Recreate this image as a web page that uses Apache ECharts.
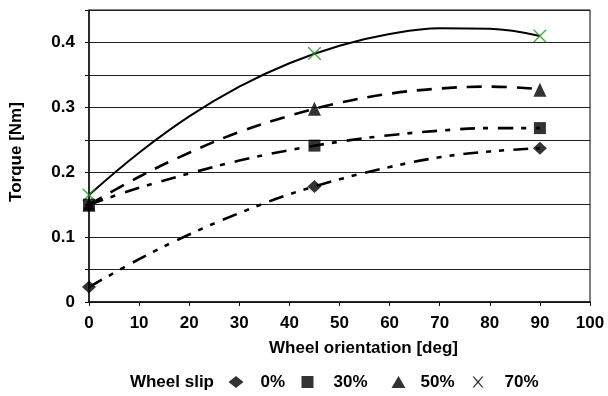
<!DOCTYPE html>
<html>
<head>
<meta charset="utf-8">
<script src="https://cdn.jsdelivr.net/npm/echarts@6/dist/echarts.min.js"></script>
<style>
html,body{margin:0;padding:0;background:#fff;}
#chart{width:608px;height:396px;}
</style>
</head>
<body>
<div id="chart"></div>
<script>
// ---- data ----
const seriesNames = ['0%', '30%', '50%', '70%'];
const measuredX = [0, 45, 90];
const measured0 = [0.023, 0.178, 0.237];
const measured30 = [0.150, 0.241, 0.268];
const measured50 = [0.150, 0.298, 0.327];
const measured70 = [0.165, 0.383, 0.410];
// trend-line values
const trendX = [0, 10, 20, 30, 40, 50, 60, 70, 80, 90];
const trend0 = [0.023, 0.066, 0.104, 0.137, 0.166, 0.189, 0.208, 0.223, 0.232, 0.237];
const trend30 = [0.150, 0.176, 0.198, 0.218, 0.234, 0.247, 0.257, 0.264, 0.268, 0.268];
const trend50 = [0.150, 0.193, 0.230, 0.262, 0.287, 0.307, 0.321, 0.329, 0.332, 0.328];
const trend70 = [0.165, 0.230, 0.286, 0.332, 0.368, 0.395, 0.413, 0.422, 0.421, 0.410];
const xTicks = [0, 10, 20, 30, 40, 50, 60, 70, 80, 90, 100];
const yTickLabels = ['0', '0.1', '0.2', '0.3', '0.4'];

const FONT = '"Liberation Sans", Arial, sans-serif';
const xPath = 'path://M0,0L8,0L50,42L92,0L100,0L100,8L58,50L100,92L100,100L92,100L50,58L8,100L0,100L0,92L42,50L0,8Z';
const xPathLegend = 'path://M0,0L14,0L50,40L86,0L100,0L58,50L100,100L86,100L50,60L14,100L0,100L42,50Z';

function pairs(xs, ys) { return xs.map((x, i) => [x, ys[i]]); }

const measured = [measured0, measured30, measured50, measured70];
const trends = [trend0, trend30, trend50, trend70];
const dashes = [[15, 8, 5, 8, 5, 9], [15, 8, 5, 10], [15, 10], 'solid'];
const widths = [2.6, 2.6, 2.6, 2];
const symbols = ['diamond', 'rect', 'triangle', xPath];
const legendIcons = ['diamond', 'rect', 'triangle', xPathLegend];
const symSizes = [[14, 13], [12, 12], [13, 14], [13, 13]];
const symColors = ['#000', '#000', '#000', '#1a9a1a'];

const series = [];
trends.forEach((t, i) => {
  series.push({
    name: seriesNames[i] + ' trend',
    type: 'line',
    data: pairs(trendX, t),
    smooth: 0.4,
    showSymbol: false,
    symbol: 'none',
    silent: true,
    lineStyle: { color: '#000', width: widths[i], type: dashes[i] },
    z: 2
  });
});
measured.forEach((m, i) => {
  series.push({
    name: seriesNames[i],
    type: 'scatter',
    data: pairs(measuredX, m),
    symbol: symbols[i],
    symbolSize: symSizes[i],
    itemStyle: { color: symColors[i] },
    z: 5 + (3 - i)
  });
});

const legendSpec = [
  { left: 228.5, w: 15, h: 12, pad: 12 },
  { left: 301.5, w: 12, h: 12, pad: 15 },
  { left: 391.5, w: 14, h: 12, pad: 10 },
  { left: 472.5, w: 11, h: 13, pad: 16 }
];
const legends = seriesNames.map((n, i) => ({
  show: true,
  left: legendSpec[i].left,
  top: 372,
  padding: 0,
  selectedMode: false,
  itemWidth: legendSpec[i].w,
  itemHeight: legendSpec[i].h,
  data: [{ name: n, icon: legendIcons[i], itemStyle: { color: '#000' } }],
  textStyle: { fontFamily: FONT, fontWeight: 'bold', fontSize: 17, color: '#000', lineHeight: 20, padding: [0, 0, 0, legendSpec[i].pad] }
}));

const chart = echarts.init(document.getElementById('chart'), null, { renderer: 'canvas' });
chart.setOption({
  animation: false,
  backgroundColor: '#fff',
  textStyle: { fontFamily: FONT },
  grid: { left: 83, right: 18, top: 10, bottom: 94, show: true, borderColor: '#000', borderWidth: 1, backgroundColor: 'transparent' },
  xAxis: {
    type: 'value',
    min: xTicks[0],
    max: xTicks[xTicks.length - 1],
    interval: 10,
    name: 'Wheel orientation [deg]',
    nameLocation: 'middle',
    nameGap: 38,
    nameTextStyle: { fontFamily: FONT, fontWeight: 'bold', fontSize: 17, color: '#000', padding: [0, 0, 0, 48] },
    axisLine: { show: true, lineStyle: { color: '#111', width: 1.5 } },
    axisTick: { show: true, inside: false, length: 4, lineStyle: { color: '#111' } },
    axisLabel: { margin: 13, fontFamily: FONT, fontWeight: 'bold', fontSize: 17, color: '#000', showMinLabel: true, showMaxLabel: true, hideOverlap: false },
    splitLine: { show: false }
  },
  yAxis: {
    type: 'value',
    min: 0,
    max: 0.45,
    interval: 0.05,
    name: 'Torque [Nm]',
    nameLocation: 'middle',
    nameGap: 64,
    nameRotate: 90,
    nameTextStyle: { fontFamily: FONT, fontWeight: 'bold', fontSize: 17, color: '#000', padding: [0, 0, 0, 8] },
    axisLine: { show: true, lineStyle: { color: '#111', width: 1.5 } },
    axisTick: { show: true, inside: false, length: 4, lineStyle: { color: '#111' } },
    axisLabel: {
      margin: 14, fontFamily: FONT, fontWeight: 'bold', fontSize: 17, color: '#000',
      showMaxLabel: true,
      formatter: function (v) {
        const k = Math.round(v * 100);
        if (k % 10 !== 0) return '';
        return yTickLabels[k / 10] !== undefined ? yTickLabels[k / 10] : '';
      }
    },
    splitLine: { show: true, lineStyle: { color: '#222', width: 1 } }
  },
  legend: legends,
  graphic: [{
    type: 'text',
    style: { text: 'Wheel slip', x: 214, y: 382, align: 'right', verticalAlign: 'middle', font: 'bold 17px "Liberation Sans", Arial, sans-serif', fill: '#000' }
  }],
  series: series
});
</script>
</body>
</html>
